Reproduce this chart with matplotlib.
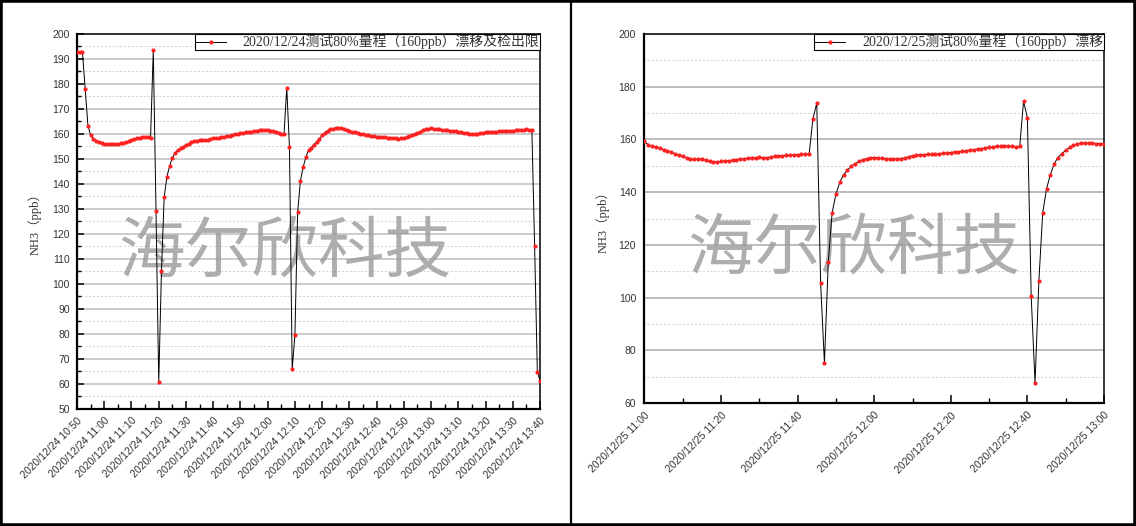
import pandas as pd
import matplotlib.pyplot as plt
import matplotlib.dates as mdates
from matplotlib.patches import Rectangle
from matplotlib.lines import Line2D
from matplotlib.ticker import MultipleLocator

plt.rcParams['font.family'] = ['Liberation Serif', 'Noto Sans CJK SC']

# ---- data (one reading per minute) ----
left_start = '2020-12-24 10:50'
left_vals = [
    192.5, 192.5, 192.5, 177.7, 163.2, 159.3, 158.0, 157.2, 156.6, 156.3,
    156.0, 155.9, 155.8, 155.8, 155.9, 156.0, 156.1, 156.4, 156.7, 157.0,
    157.4, 157.8, 158.1, 158.4, 158.6, 158.7, 158.8, 158.2, 193.4, 129.0,
    60.5, 105.0, 134.6, 142.8, 147.0, 150.4, 152.1, 153.4, 154.1, 154.8,
    155.4, 156.0, 156.6, 157.0, 157.2, 157.3, 157.3, 157.4, 157.6, 157.9,
    158.1, 158.3, 158.4, 158.6, 158.8, 159.0, 159.2, 159.4, 159.7, 159.9,
    160.2, 160.4, 160.5, 160.7, 160.8, 161.0, 161.2, 161.4, 161.4, 161.4,
    161.3, 161.2, 161.0, 160.7, 160.4, 160.0, 159.8, 178.4, 154.5, 65.7,
    79.4, 128.5, 141.0, 146.6, 150.5, 153.5, 154.3, 155.6, 156.8, 157.9,
    159.3, 160.4, 161.2, 161.7, 162.0, 162.2, 162.4, 162.3, 162.0, 161.5,
    161.1, 160.8, 160.5, 160.2, 160.0, 159.7, 159.5, 159.3, 159.1, 158.9,
    158.8, 158.7, 158.6, 158.5, 158.4, 158.3, 158.2, 158.1, 158.0, 158.2,
    158.4, 158.6, 158.9, 159.3, 159.8, 160.3, 160.8, 161.4, 161.8, 162.0,
    162.1, 162.0, 161.8, 161.7, 161.5, 161.4, 161.3, 161.2, 161.0, 160.9,
    160.8, 160.6, 160.4, 160.1, 159.9, 159.8, 159.8, 159.9, 160.1, 160.3,
    160.5, 160.6, 160.6, 160.7, 160.8, 160.9, 160.9, 161.0, 161.1, 161.1,
    161.2, 161.3, 161.4, 161.5, 161.6, 161.7, 161.6, 161.3, 115.2, 64.8,
    61.0,
]
left_label = '2020/12/24测试80%量程（160ppb）漂移及检出限'

right_start = '2020-12-25 11:00'
right_vals = [
    159.2, 157.9, 157.4, 157.0, 156.6, 156.1, 155.6, 155.1, 154.6, 154.0,
    153.5, 153.0, 152.6, 152.4, 152.5, 152.6, 152.0, 151.6, 151.4, 151.5,
    151.6, 151.7, 151.9, 152.1, 152.3, 152.5, 152.6, 152.8, 153.0, 153.1,
    153.2, 153.1, 153.1, 153.3, 153.6, 153.7, 153.8, 153.9, 154.0, 154.1,
    154.2, 154.3, 154.3, 154.4, 167.8, 173.7, 105.7, 75.3, 113.4, 132.1,
    139.2, 143.7, 146.6, 148.3, 149.8, 150.8, 151.6, 152.3, 152.7, 153.0,
    153.1, 153.0, 152.8, 152.7, 152.6, 152.5, 152.5, 152.7, 153.0, 153.4,
    153.8, 154.0, 154.1, 154.2, 154.3, 154.3, 154.3, 154.5, 154.7, 154.8,
    155.0, 155.2, 155.3, 155.4, 155.6, 155.9, 156.1, 156.3, 156.5, 156.7,
    156.9, 157.1, 157.3, 157.4, 157.5, 157.5, 157.3, 157.1, 157.3, 174.4,
    168.2, 100.5, 67.7, 106.3, 132.1, 141.2, 146.6, 150.8, 153.1, 154.6,
    155.8, 156.9, 157.7, 158.2, 158.5, 158.6, 158.6, 158.5, 158.4, 158.4,
    158.3,
]
right_label = '2020/12/25测试80%量程（160ppb）漂移'

ylabel = 'NH3（ppb）'
watermark = '海尔欣科技'

left_t = pd.date_range(left_start, periods=len(left_vals), freq='1min')
right_t = pd.date_range(right_start, periods=len(right_vals), freq='1min')

fig = plt.figure(figsize=(11.36, 5.26), dpi=100)
ax1 = fig.add_axes([0.0678, 0.2232, 0.4076, 0.7129])
ax2 = fig.add_axes([0.5673, 0.2333, 0.4045, 0.7026])


def draw(ax, t, vals, label, ylim, ystep, xstep, grid_col, ytick_len, ypad, wm_xy):
    ax.plot(t, vals, color='black', lw=0.7, marker='o', ms=3.0,
            mfc='#ff2020', mec='#ff2020', mew=0, label=label, zorder=3)
    ax.set_xlim(t[0], t[-1])
    ax.set_ylim(*ylim)
    ax.yaxis.set_major_locator(MultipleLocator(ystep))
    ax.yaxis.set_minor_locator(MultipleLocator(ystep / 2))
    ax.xaxis.set_major_locator(mdates.MinuteLocator(byminute=range(0, 60, xstep)))
    ax.xaxis.set_minor_locator(mdates.MinuteLocator(byminute=range(0, 60, xstep // 2)))
    ax.xaxis.set_major_formatter(mdates.DateFormatter('%Y/%m/%d %H:%M'))

    ax.set_axisbelow(True)
    ax.yaxis.grid(True, which='major', color=grid_col, lw=1.2)
    ax.yaxis.grid(True, which='minor', color='#d2d2d2', lw=0.7, ls=(0, (2, 2)))

    for s in ax.spines.values():
        s.set_color('black')
        s.set_linewidth(1.1)
    ax.spines['left'].set_linewidth(1.6)
    ax.spines['bottom'].set_linewidth(1.6)

    ax.tick_params(axis='x', which='major', direction='in', length=6, width=1.1,
                   labelsize=7.5, labelcolor='#333333', pad=5,
                   labelfontfamily='Liberation Sans', labelrotation=45)
    ax.tick_params(axis='x', which='minor', direction='in', length=3.5, width=1.0)
    ax.tick_params(axis='y', which='major', direction='in', length=ytick_len, width=1.1,
                   labelsize=7.5, labelcolor='#333333', pad=ypad,
                   labelfontfamily='Liberation Sans')
    ax.tick_params(axis='y', which='minor', direction='in',
                   length=ytick_len * 0.6, width=1.0)
    plt.setp(ax.get_xticklabels(), ha='right', rotation_mode='anchor')

    ax.set_ylabel(ylabel, fontsize=9, color='#333333')
    ax.yaxis.set_label_coords(-0.0756, 0.5)

    ax.text(wm_xy[0], wm_xy[1], watermark, transform=ax.transAxes, fontsize=48,
            color='#9a9a9a', alpha=0.8, ha='center', va='center',
            family='Noto Sans CJK SC', fontweight='light', zorder=2)

    leg = ax.legend(loc='upper right', bbox_to_anchor=(1, 1), borderaxespad=0,
                    fontsize=10, frameon=True, fancybox=False, framealpha=1,
                    handlelength=2.2, handletextpad=1.2, borderpad=0.05,
                    numpoints=1)
    leg.get_frame().set_edgecolor('black')
    leg.get_frame().set_linewidth(0.8)
    for txt in leg.get_texts():
        txt.set_color('#333333')


draw(ax1, left_t, left_vals, left_label, (50, 200), 10, 10, '#c4c4c4', 5, 5,
     (0.449, 0.415))
draw(ax2, right_t, right_vals, right_label, (60, 200), 20, 20, '#b0b0b0', 0, 6,
     (0.456, 0.415))

# outer frame and divider
fig.add_artist(Rectangle((0, 0), 1, 1, transform=fig.transFigure, fill=False,
                         edgecolor='black', lw=4))
fig.add_artist(Line2D([0.5026, 0.5026], [0, 1], transform=fig.transFigure,
                      color='black', lw=1.6))

fig.savefig('out.png', dpi=100)
